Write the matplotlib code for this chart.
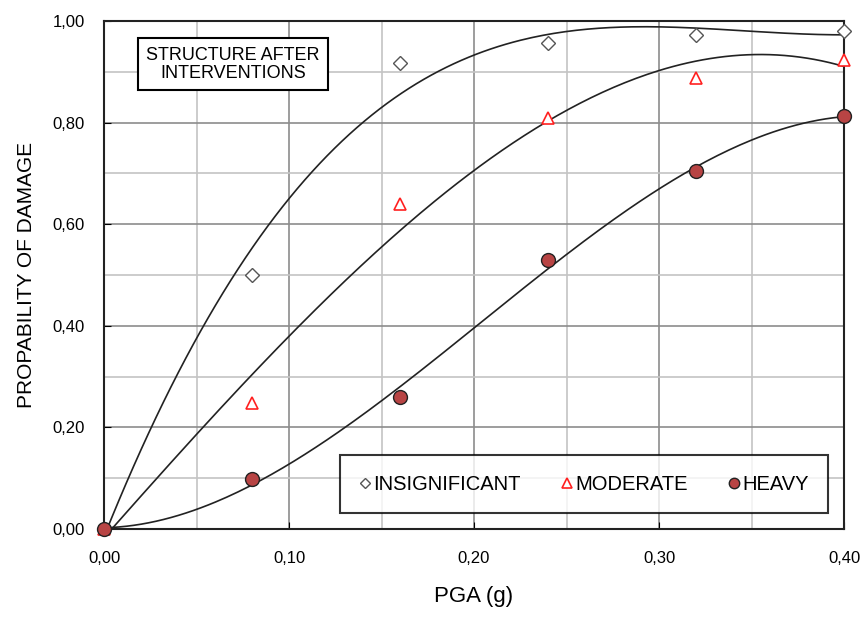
import matplotlib
matplotlib.use('Agg')
import matplotlib.pyplot as plt
import numpy as np
from matplotlib.ticker import MultipleLocator, FuncFormatter

pga = [0.00, 0.08, 0.16, 0.24, 0.32, 0.40]
insignificant = [0.00, 0.50, 0.917, 0.957, 0.972, 0.98]
moderate = [0.00, 0.248, 0.64, 0.81, 0.888, 0.923]
heavy = [0.00, 0.098, 0.26, 0.53, 0.705, 0.813]

plt.rcParams['font.family'] = ['Liberation Sans', 'DejaVu Sans']

fig = plt.figure(figsize=(8.64, 6.17), dpi=100)
ax = fig.add_axes([0.1204, 0.1426, 0.8565, 0.8234])

ax.set_xlim(0, 0.40)
ax.set_ylim(0, 1.0)
ax.xaxis.set_major_locator(MultipleLocator(0.10))
ax.xaxis.set_minor_locator(MultipleLocator(0.05))
ax.yaxis.set_major_locator(MultipleLocator(0.20))
ax.yaxis.set_minor_locator(MultipleLocator(0.10))
comma = FuncFormatter(lambda v, p: f'{v:.2f}'.replace('.', ','))
ax.xaxis.set_major_formatter(comma)
ax.yaxis.set_major_formatter(comma)
ax.grid(which='major', color='#8c8c8c', lw=1.2)
ax.grid(which='minor', color='#c4c4c4', lw=1.2)
ax.set_axisbelow(True)
ax.tick_params(which='both', direction='in', length=5, labelsize=12, colors='black')
ax.tick_params(which='minor', length=0)
ax.tick_params(axis='x', pad=16)
ax.tick_params(axis='y', pad=14)
for s in ax.spines.values():
    s.set_linewidth(1.5)
    s.set_color('#222222')

# polynomial trend lines
xs = np.linspace(0, 0.40, 200)
for ys in (insignificant, moderate, heavy):
    c = np.polyfit(pga, ys, 3)
    ax.plot(xs, np.polyval(c, xs), color='#222222', lw=1.2, zorder=2)

ax.plot(pga, insignificant, ls='none', marker='D', ms=7, mfc='white',
        mec='#555555', mew=1.0, label='INSIGNIFICANT', zorder=3, clip_on=False)
ax.plot(pga, moderate, ls='none', marker='^', ms=9, mfc='white',
        mec='#ff2020', mew=1.2, label='MODERATE', zorder=3, clip_on=False)
ax.plot(pga, heavy, ls='none', marker='o', ms=10, mfc='#b84444',
        mec='#222222', mew=1.0, label='HEAVY', zorder=4, clip_on=False)

leg = ax.legend(loc='lower right', bbox_to_anchor=(0.978, 0.032), ncol=3,
                frameon=True, fancybox=False, edgecolor='black', fontsize=14.5,
                handlelength=0.6, handletextpad=0.1, columnspacing=2.0,
                borderpad=0.95, borderaxespad=0, markerscale=0.75)
leg.get_frame().set_linewidth(1.5)

ax.text(0.174, 0.915, 'STRUCTURE AFTER\nINTERVENTIONS', transform=ax.transAxes,
        ha='center', va='center', fontsize=13, linespacing=1.1,
        bbox=dict(boxstyle='square,pad=0.45', fc='white', ec='black', lw=1.5))

ax.set_xlabel('PGA (g)', fontsize=16, labelpad=14)
ax.set_ylabel('PROPABILITY OF DAMAGE', fontsize=15, labelpad=12)

fig.savefig('out.png', dpi=100)
